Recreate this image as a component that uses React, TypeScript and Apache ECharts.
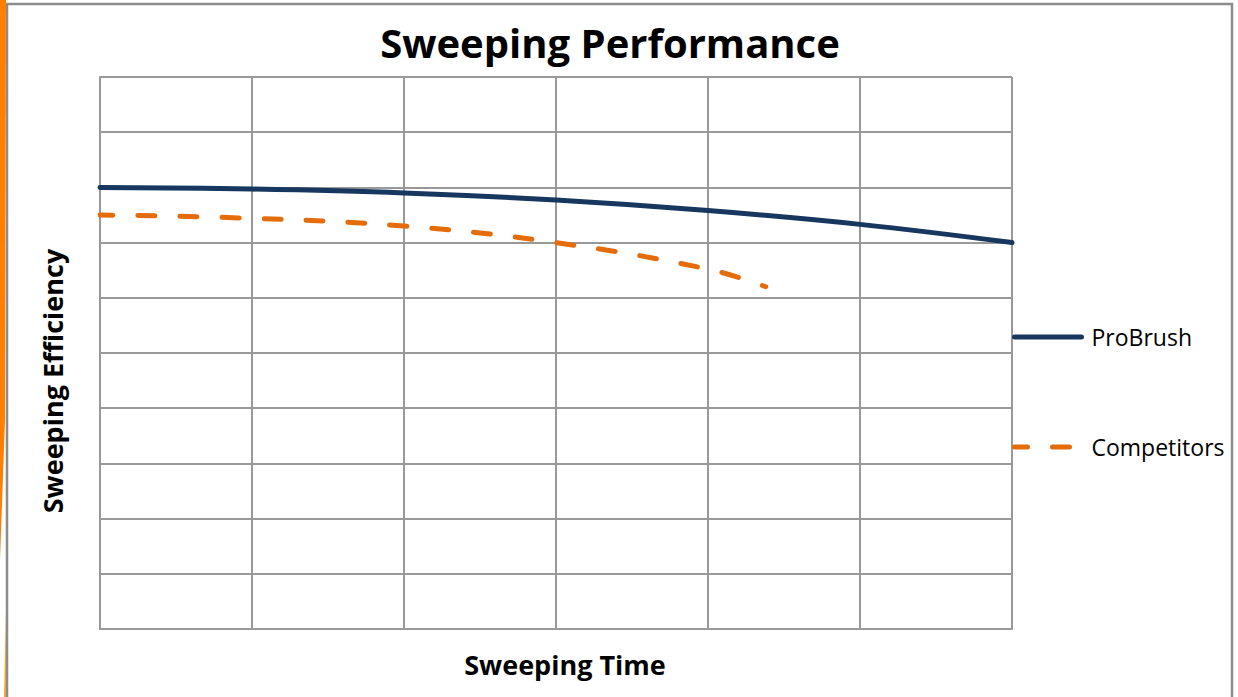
import React, { useEffect, useRef } from "react";
import * as echarts from "echarts";

const seriesNames = ["ProBrush", "Competitors"];
const proBrush: [number, number][] = [
  [0, 8.0], [1, 7.97], [2, 7.9], [3, 7.77], [4, 7.58], [5, 7.33], [6, 7.0],
];
const competitors: [number, number][] = [
  [0, 7.5], [1, 7.44], [2, 7.3], [3, 7.0], [4, 6.52], [4.38, 6.2],
];
const xRange = [0, 6];
const yRange = [0, 10];

export default function App() {
  const ref = useRef<HTMLDivElement>(null);
  useEffect(() => {
    if (!ref.current) return;
    const chart = echarts.init(ref.current, undefined, { renderer: "svg" });
    const font = "'Open Sans', 'Noto Sans', sans-serif";
    chart.setOption({
      animation: false,
      backgroundColor: "#fff",
      title: {
        text: "Sweeping Performance",
        left: 605,
        textAlign: "center",
        top: 17,
        textStyle: { fontFamily: font, fontWeight: "bold", fontSize: 40, color: "#000" },
      },
      grid: { left: 100, top: 77, width: 912, height: 552, containLabel: false },
      legend: {
        orient: "vertical",
        left: 1007,
        top: 319,
        itemWidth: 67,
        itemHeight: 26,
        itemGap: 84,
        data: seriesNames,
        itemStyle: { opacity: 0 },
        lineStyle: { width: 5, cap: "round" },
        textStyle: { fontFamily: font, fontSize: 23, color: "#000", lineHeight: 26, padding: [0, 0, 0, 5] },
      },
      xAxis: {
        type: "value",
        min: xRange[0],
        max: xRange[1],
        interval: 1,
        axisLabel: { show: false },
        axisTick: { show: false },
        axisLine: { show: true, lineStyle: { color: "#999", width: 2 } },
        splitLine: { show: true, lineStyle: { color: "#999", width: 2 } },
      },
      yAxis: {
        type: "value",
        min: yRange[0],
        max: yRange[1],
        interval: 1,
        axisLabel: { show: false },
        axisTick: { show: false },
        axisLine: { show: true, lineStyle: { color: "#999", width: 2 } },
        splitLine: { show: true, lineStyle: { color: "#999", width: 2 } },
      },
      series: [
        {
          name: seriesNames[0],
          type: "line",
          data: proBrush,
          smooth: 0.4,
          symbol: "none",
          color: "#17375E",
          lineStyle: { color: "#17375E", width: 5, cap: "round" },
        },
        {
          name: seriesNames[1],
          type: "line",
          data: competitors,
          smooth: 0.4,
          symbol: "none",
          color: "#E46C0A",
          lineStyle: { color: "#E46C0A", width: 5, type: [17, 25], dashOffset: 4, cap: "round" },
        },
      ],
      graphic: [
        {
          type: "rect",
          shape: { x: 7, y: 4, width: 1225, height: 720 },
          style: { fill: "none", stroke: "#8c8c8c", lineWidth: 2.5 },
          silent: true,
        },
        {
          type: "polygon",
          shape: { points: [[0, 0], [6, 0], [5, 420], [0, 560]] },
          style: { fill: "#FF7F00" },
          silent: true,
        },
        {
          type: "polygon",
          shape: { points: [[6, 610], [6, 697], [4, 697]] },
          style: { fill: "#F5A623" },
          silent: true,
        },
        {
          type: "text",
          x: 52,
          y: 381,
          rotation: Math.PI / 2,
          style: {
            text: "Sweeping Efficiency",
            font: `bold 27px ${font}`,
            fill: "#000",
            align: "center",
            verticalAlign: "middle",
          },
          silent: true,
        },
        {
          type: "text",
          x: 565,
          y: 664,
          style: {
            text: "Sweeping Time",
            font: `bold 27px ${font}`,
            fill: "#000",
            align: "center",
            verticalAlign: "middle",
          },
          silent: true,
        },
      ],
    });
    return () => chart.dispose();
  }, []);
  return (
    <div
      ref={ref}
      style={{ position: "fixed", left: 0, top: 0, width: 1238, height: 697 }}
    />
  );
}
